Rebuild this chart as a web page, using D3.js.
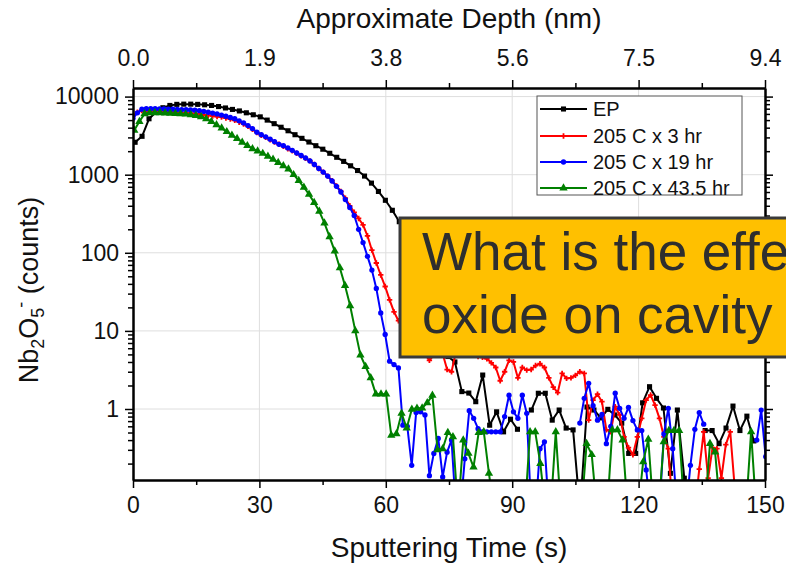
<!DOCTYPE html>
<html><head><meta charset="utf-8">
<script src="https://cdn.jsdelivr.net/npm/d3@7"></script>
<style>
html,body{margin:0;padding:0;background:#fff;}
svg{display:block;font-family:"Liberation Sans",Arial,sans-serif;}
</style></head><body>
<svg id="chart" width="786" height="563"></svg>
<script>
// ---------- data ----------
const seriesNames = ["EP", "205 C x 3 hr", "205 C x 19 hr", "205 C x 43.5 hr"];
const timeTicks = [0, 30, 60, 90, 120, 150];
const timeMinorTicks = [15, 45, 75, 105, 135];
const depthLabels = ["0.0", "1.9", "3.8", "5.6", "7.5", "9.4"];
const countTicks = [1, 10, 100, 1000, 10000];

// sampling (start time, interval in s) of each measurement
const epTime = [0.5, 1.65];
const h3Time = [0, 1.05];
const h19Time = [0, 1.05];
const h43Time = [0.3, 1.22];

// counts (null = no point; values below 0.12 fall under the axis)
const epCounts = [2600, 3100, 5200, 6300, 7200, 7700, 7950, 8000, 8000, 7950,
  7850, 7700, 7450, 7150, 6850, 6550, 6200, 5850, 5500, 5000,
  4500, 4050, 3650, 3250, 2920, 2620, 2350, 2120, 1880, 1670,
  1480, 1300, 1130, 960, 780, 610, 470, 350, 250, 165,
  100, 55, 28, 15, 8, 4.7, 4.0, 1.67, 1.6, 1.24,
  2.72, 0.62, 0.92, 0.51, 0.74, 0.55, null, 0.97, 1.59, 1.59,
  0.72, 0.97, 0.57, 0.54, 0.05, 1.06, 0.97, 0.77, 0.99, 0.84,
  0.66, 0.27, 0.27, 1.2, 1.93, 1.37, 1.03, 0.15, 0.97, 0.13,
  null, null, 0.53, 0.53, 0.36, 0.57, 1.09, 0.53, 0.81, 0.39];

const h3Counts = [5700, 6300, 6600, 6600, 6550, 6500, 6450, 6400, 6350, 6300,
  6250, 6200, 6150, 6100, 6050, 5950, 5850, 5750, 5650, 5550,
  5450, 5300, 5150, 4950, 4700, 4450, 4150, 3800, 3450, 3200,
  3000, 2800, 2620, 2450, 2300, 2150, 2020, 1880, 1750, 1620,
  1500, 1350, 1200, 1080, 960, 840, 720, 610, 500, 400,
  330, 275, 228, 165, 108, 74, 52, 37, 25, 17.5,
  13.5, 11, 9, 7.5, 6.5, 5.5, 5, 4.2, 4.9, 5.2,
  5.1, 3.2, 3.0, 5.4, 5.0, 5.5, 5.2, 4.9, 4.7, 4.6,
  4.4, 3.9, 3.4, 2.3, 3.0, 4.2, 4.0, 2.5, 3.4, 3.15,
  3.2, 3.6, 3.8, 3.4, 2.5, 1.9, 1.62, 2.85, 2.47, 2.5,
  2.7, 3.0, 2.85, 0.72, 1.3, 1.55, 1.24, 0.54, 0.51, 1.07,
  0.84, 0.44, 0.32, 0.26, 0.44, 0.76, 1.3, 1.51, 1.12, 0.76,
  0.44, 0.31, 0.05, null, null, null, null, 0.05, 0.17, 0.51,
  0.13, 0.32, 0.31, 0.13, 0.35, 0.51, 0.1];

const h19Counts = [5270, 6200, 6900, 7000, 7000, 7000, 6950, 6950, 6900, 6900,
  6850, 6800, 6780, 6750, 6700, 6600, 6450, 6300, 6150, 6000,
  5800, 5600, 5400, 5200, 4900, 4600, 4250, 3900, 3500, 3250,
  3050, 2850, 2650, 2450, 2350, 2200, 2050, 1900, 1760, 1640,
  1500, 1350, 1200, 1080, 960, 830, 710, 600, 480, 380,
  300, 200, 135, 90, 60, 35, 17, 9, 4.1, 3.7,
  3.35, 0.62, 0.6, 0.19, 0.9, 0.92, 0.84, 0.14, 0.27, 0.42,
  0.135, 0.28, 0.40, 0.05, 0.05, 0.23, 0.95, 0.76, 0.56, 0.51,
  0.51, 0.51, 0.51, 0.51, 0.8, 1.5, 0.92, 0.76, 1.5, 0.88,
  0.05, 0.05, 0.31, 0.38, 0.05, null, null, null, null, null,
  null, 0.66, 1.37, 2.13, 1.1, 0.72, 0.85, 0.36, 0.6, 1.59,
  1.02, 0.76, 1.05, 0.71, 0.54, 0.53, 0.166, 0.05, 0.05, 0.05,
  0.48, 1.02, 0.31, 0.05, 0.05, 0.05, 0.19, 0.55, 0.9, 0.64,
  null, null, null, null, null, null, null, null, null, null,
  null, 0.4, 0.97, 0.245];

const h43Counts = [3700, 4800, 6000, 6200, 6200, 6200, 6150, 6100, 6050, 6000,
  5950, 5850, 5700, 5500, 5200, 4800, 4350, 3950, 3550, 3200,
  2900, 2600, 2350, 2150, 2000, 1870, 1720, 1570, 1430, 1300,
  1180, 1000, 840, 690, 560, 440, 340, 240, 160, 105,
  64, 38, 21, 10, 4.9, 3.5, 2.5, 1.55, 1.55, 1.55,
  0.46, 0.48, 0.88, 0.57, 0.99, 1.02, 1.03, 1.2, 1.5, 0.3,
  0.31, 0.5, 0.44, 0.05, 0.4, 0.27, 0.18, 0.5, 0.51, 0.15,
  0.05, 0.05, 0.05, 0.05, 0.05, 0.05, 0.05, 0.51, 0.51, 0.2,
  0.05, 0.05, 0.51, 0.05, 0.05, 0.05, 0.05, 0.05, 0.36, 0.26,
  0.05, 0.05, 0.05, 0.54, 0.54, 0.40, 0.05, 0.05, 0.05, 0.21,
  0.41, 0.05, 0.05, 0.38, 0.53, 0.53, 0.53, 0.05, 0.05, 0.05,
  0.05, 0.05, 0.36, 0.28, 0.05, 0.05, 0.05, 0.05, 0.05, 0.05,
  0.51, 0.05, 0.05];

// ---------- chart ----------
const W = 786, H = 563;
const L = 133, R = 765, T = 88, B = 480;
const svg = d3.select("#chart");

const x = d3.scaleLinear().domain([0, 150]).range([L, R]);
const y = d3.scaleLog().domain([0.1233, 12880]).range([B, T]);

const colors = ["#000000", "#ff0000", "#0000ff", "#008000"];
const symbols = [d3.symbolSquare, d3.symbolCross, d3.symbolCircle, d3.symbolTriangle];
const symSizes = [26, 16, 22, 30];

function build(tm, vals) {
  return vals.map((v, i) => ({ t: tm[0] + i * tm[1], v: v }));
}
const series = [
  build(epTime, epCounts),
  build(h3Time, h3Counts),
  build(h19Time, h19Counts),
  build(h43Time, h43Counts)
];

svg.append("defs").append("clipPath").attr("id", "plotclip")
  .append("rect").attr("x", L).attr("y", T).attr("width", R - L).attr("height", B - T);

// grid
const grid = svg.append("g").attr("stroke", "#dedede").attr("stroke-width", 1);
grid.selectAll("line.gx").data(timeTicks.slice(1, -1)).join("line")
  .attr("x1", d => x(d)).attr("x2", d => x(d)).attr("y1", T).attr("y2", B);
grid.selectAll("line.gy").data(countTicks).join("line")
  .attr("x1", L).attr("x2", R).attr("y1", d => y(d)).attr("y2", d => y(d));

// series
const plot = svg.append("g").attr("clip-path", "url(#plotclip)");
const line = d3.line().defined(d => d.v != null).x(d => x(d.t)).y(d => y(d.v));
series.forEach((s, k) => {
  const g = plot.append("g");
  g.append("path").datum(s).attr("d", line).attr("fill", "none")
    .attr("stroke", colors[k]).attr("stroke-width", 2).attr("stroke-linejoin", "round");
  g.selectAll("path.m").data(s.filter(d => d.v != null)).join("path")
    .attr("class", "m")
    .attr("transform", d => `translate(${x(d.t)},${y(d.v)})`)
    .attr("d", d3.symbol().type(symbols[k]).size(symSizes[k])())
    .attr("fill", colors[k]);
});

// axes
function styleAxis(g) {
  g.select(".domain").attr("stroke", "#000").attr("stroke-width", 2);
  g.selectAll(".tick line").attr("stroke", "#000").attr("stroke-width", 1.5);
  g.selectAll(".tick text").attr("fill", "#111").attr("font-size", 23)
    .attr("font-family", "'Liberation Sans', Arial, sans-serif");
}
const logMinor = [];
[0.1, 1, 10, 100, 1000].forEach(b => { for (let m = 2; m <= 9; m++) logMinor.push(b * m); });

svg.append("g").attr("transform", `translate(0,${B})`)
  .call(d3.axisBottom(x).tickValues(timeTicks).tickSize(8).tickSizeOuter(0).tickPadding(9).tickFormat(d3.format("d")))
  .call(styleAxis);
svg.append("g").attr("transform", `translate(0,${B})`)
  .call(d3.axisBottom(x).tickValues(timeMinorTicks).tickSize(5).tickSizeOuter(0).tickFormat(""))
  .call(styleAxis);
svg.append("g").attr("transform", `translate(0,${T})`)
  .call(d3.axisTop(x).tickValues(timeTicks).tickSize(8).tickSizeOuter(0).tickPadding(14).tickFormat((d, i) => depthLabels[i]))
  .call(styleAxis);
svg.append("g").attr("transform", `translate(0,${T})`)
  .call(d3.axisTop(x).tickValues(timeMinorTicks).tickSize(5).tickSizeOuter(0).tickFormat(""))
  .call(styleAxis);
svg.append("g").attr("transform", `translate(${L},0)`)
  .call(d3.axisLeft(y).tickValues(countTicks).tickSize(8).tickSizeOuter(0).tickPadding(6).tickFormat(d3.format("d")))
  .call(styleAxis);
svg.append("g").attr("transform", `translate(${L},0)`)
  .call(d3.axisLeft(y).tickValues(logMinor).tickSize(5).tickSizeOuter(0).tickFormat(""))
  .call(styleAxis);
svg.append("g").attr("transform", `translate(${R},0)`)
  .call(d3.axisRight(y).tickValues(countTicks).tickSize(8).tickSizeOuter(0).tickFormat(""))
  .call(styleAxis);
svg.append("g").attr("transform", `translate(${R},0)`)
  .call(d3.axisRight(y).tickValues(logMinor).tickSize(5).tickSizeOuter(0).tickFormat(""))
  .call(styleAxis);

// axis titles
svg.append("text").attr("x", (L + R) / 2).attr("y", 28).attr("text-anchor", "middle")
  .attr("font-size", 28).attr("fill", "#111").text("Approximate Depth (nm)");
svg.append("text").attr("x", (L + R) / 2).attr("y", 557).attr("text-anchor", "middle")
  .attr("font-size", 28).attr("fill", "#111").text("Sputtering Time (s)");
const yt = svg.append("text").attr("transform", "translate(38,290) rotate(-90)")
  .attr("text-anchor", "middle").attr("font-size", 27).attr("fill", "#111");
yt.append("tspan").text("Nb");
yt.append("tspan").attr("font-size", 18).attr("dy", 6).text("2");
yt.append("tspan").attr("dy", -6).text("O");
yt.append("tspan").attr("font-size", 18).attr("dy", 6).text("5");
yt.append("tspan").attr("font-size", 18).attr("dy", -17).text("-");
yt.append("tspan").attr("dy", 11).text(" (counts)");

// legend
const lg = svg.append("g");
lg.append("rect").attr("x", 537).attr("y", 96).attr("width", 205).attr("height", 99)
  .attr("fill", "#fff").attr("stroke", "#555").attr("stroke-width", 1);
const legY = [109, 136, 162, 188];
seriesNames.forEach((n, k) => {
  lg.append("line").attr("x1", 540).attr("x2", 587).attr("y1", legY[k]).attr("y2", legY[k])
    .attr("stroke", colors[k]).attr("stroke-width", 2);
  lg.append("path").attr("transform", `translate(563.5,${legY[k]})`)
    .attr("d", d3.symbol().type(symbols[k]).size(symSizes[k])()).attr("fill", colors[k]);
  lg.append("text").attr("x", 593).attr("y", legY[k]).attr("dy", "0.36em")
    .attr("font-size", 20).attr("fill", "#111").text(n);
});

// callout box
svg.append("rect").attr("x", 400).attr("y", 218).attr("width", 420).attr("height", 139)
  .attr("fill", "#FFC000").attr("stroke", "#3a3a3a").attr("stroke-width", 3);
svg.append("text").attr("x", 422).attr("y", 270).attr("font-size", 53).attr("fill", "#2e2e2e")
  .text("What is the effe");
svg.append("text").attr("x", 422).attr("y", 333).attr("font-size", 53).attr("fill", "#2e2e2e")
  .text("oxide on cavity");
</script>
</body></html>
